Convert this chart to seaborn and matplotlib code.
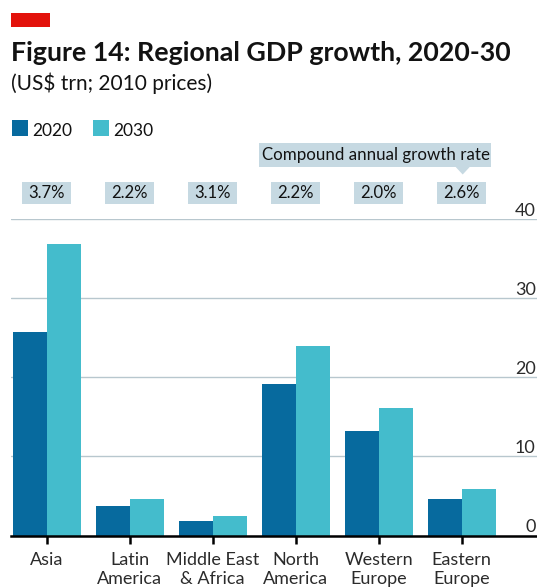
import matplotlib
matplotlib.use("Agg")
import matplotlib.pyplot as plt
import matplotlib.patches as mpatches
from matplotlib.transforms import blended_transform_factory
import pandas as pd
import seaborn as sns

# ---- data -------------------------------------------------------------
regions = ["Asia", "Latin\nAmerica", "Middle East\n& Africa", "North\nAmerica",
           "Western\nEurope", "Eastern\nEurope"]
gdp_2020 = [25.7, 3.7, 1.83, 19.15, 13.2, 4.6]
gdp_2030 = [36.8, 4.6, 2.46, 23.95, 16.1, 5.9]
cagr_labels = ["3.7%", "2.2%", "3.1%", "2.2%", "2.0%", "2.6%"]
years = ["2020", "2030"]
y_ticks = [0, 10, 20, 30, 40]

# ---- style ------------------------------------------------------------
DARK = "#076a9e"
LIGHT = "#44bccc"
BOX = "#c6d9e2"
GRID = "#b8c7ce"
RED = "#e3120b"
INK = "#121212"
GREY = "#2b2b2b"

sns.set_theme(style="white")
plt.rcParams["font.family"] = ["Lato", "DejaVu Sans"]

W, H = 537, 588
fig = plt.figure(figsize=(W / 100, H / 100), dpi=100)


def fx(px):
    return px / W


def fy(py):
    return (H - py) / H


# axes: x from 11px to right edge, y from 0-line (535.5px) to 40-line (219px)
ax = fig.add_axes([fx(11), fy(535.5), 1 - fx(11), fy(219) - fy(535.5)])

df = pd.DataFrame({
    "region": regions * 2,
    "year": [years[0]] * len(regions) + [years[1]] * len(regions),
    "value": gdp_2020 + gdp_2030,
})

sns.barplot(data=df, x="region", y="value", hue="year", order=regions,
            hue_order=years, palette=[DARK, LIGHT], width=0.82, gap=0,
            saturation=1, linewidth=0, legend=False, ax=ax, zorder=3)

ax.set_xlim(-0.43, 5.907)
ax.set_ylim(0, 40)
ax.set_xlabel("")
ax.set_ylabel("")

# horizontal gridlines, labels sitting on top of them at the right edge
ax.set_yticks(y_ticks)
ax.yaxis.grid(True, color=GRID, linewidth=1.0, zorder=0)
ax.set_axisbelow(True)
ax.yaxis.tick_right()
ax.tick_params(axis="y", length=0, pad=-1, labelsize=13, labelcolor=GREY)
for lab in ax.get_yticklabels():
    lab.set_horizontalalignment("right")
    lab.set_verticalalignment("bottom")

for side in ["left", "right", "top"]:
    ax.spines[side].set_visible(False)
ax.spines["bottom"].set_color("black")
ax.spines["bottom"].set_linewidth(1.8)
ax.spines["bottom"].set_zorder(5)

ax.tick_params(axis="x", length=6, width=1.8, color="black", pad=6,
               labelsize=13, labelcolor=GREY, bottom=True)
for lab in ax.get_xticklabels():
    lab.set_linespacing(1.25)

# ---- growth-rate boxes above each region ------------------------------
trans = blended_transform_factory(ax.transData, fig.transFigure)
box_w = 49 / 83.0
for i, txt in enumerate(cagr_labels):
    ax.add_patch(mpatches.Rectangle((i - box_w / 2, fy(204.3)), box_w,
                                    fy(181.7) - fy(204.3), transform=trans,
                                    facecolor=BOX, edgecolor="none",
                                    clip_on=False))
    ax.text(i, fy(198), txt, transform=trans, ha="center", va="baseline",
            fontsize=12, color=INK)

# caption box with a pointer to the last region
fig.patches.append(mpatches.Rectangle((fx(259), fy(167.3)), fx(491) - fx(259),
                                      fy(142.7) - fy(167.3),
                                      transform=fig.transFigure,
                                      facecolor=BOX, edgecolor="none"))
fig.patches.append(mpatches.Polygon([(fx(455.7), fy(167)), (fx(469.7), fy(167)),
                                     (fx(462.7), fy(174.5))], closed=True,
                                    transform=fig.transFigure,
                                    facecolor=BOX, edgecolor="none"))
fig.text(fx(376), fy(159.5), "Compound annual growth rate", ha="center",
         va="baseline", fontsize=12.2, color=INK)

# ---- legend -----------------------------------------------------------
for (x0, col, lbl) in [(11.7, DARK, years[0]), (92.7, LIGHT, years[1])]:
    fig.patches.append(mpatches.Rectangle((fx(x0), fy(136.3)), fx(16), 16 / H,
                                          transform=fig.transFigure,
                                          facecolor=col, edgecolor="none"))
    fig.text(fx(x0 + 21), fy(136.3), lbl, ha="left", va="baseline",
             fontsize=12.5, color=INK)

# ---- titles -----------------------------------------------------------
fig.patches.append(mpatches.Rectangle((fx(11), fy(27)), fx(39), 14 / H,
                                      transform=fig.transFigure,
                                      facecolor=RED, edgecolor="none"))
fig.text(fx(11), fy(61), "Figure 14: Regional GDP growth, 2020-30",
         ha="left", va="baseline", fontsize=19.3, fontweight="bold", color=INK)
fig.text(fx(11), fy(90), "(US$ trn; 2010 prices)", ha="left", va="baseline",
         fontsize=15, color=INK)

fig.savefig("out.png", dpi=100)
